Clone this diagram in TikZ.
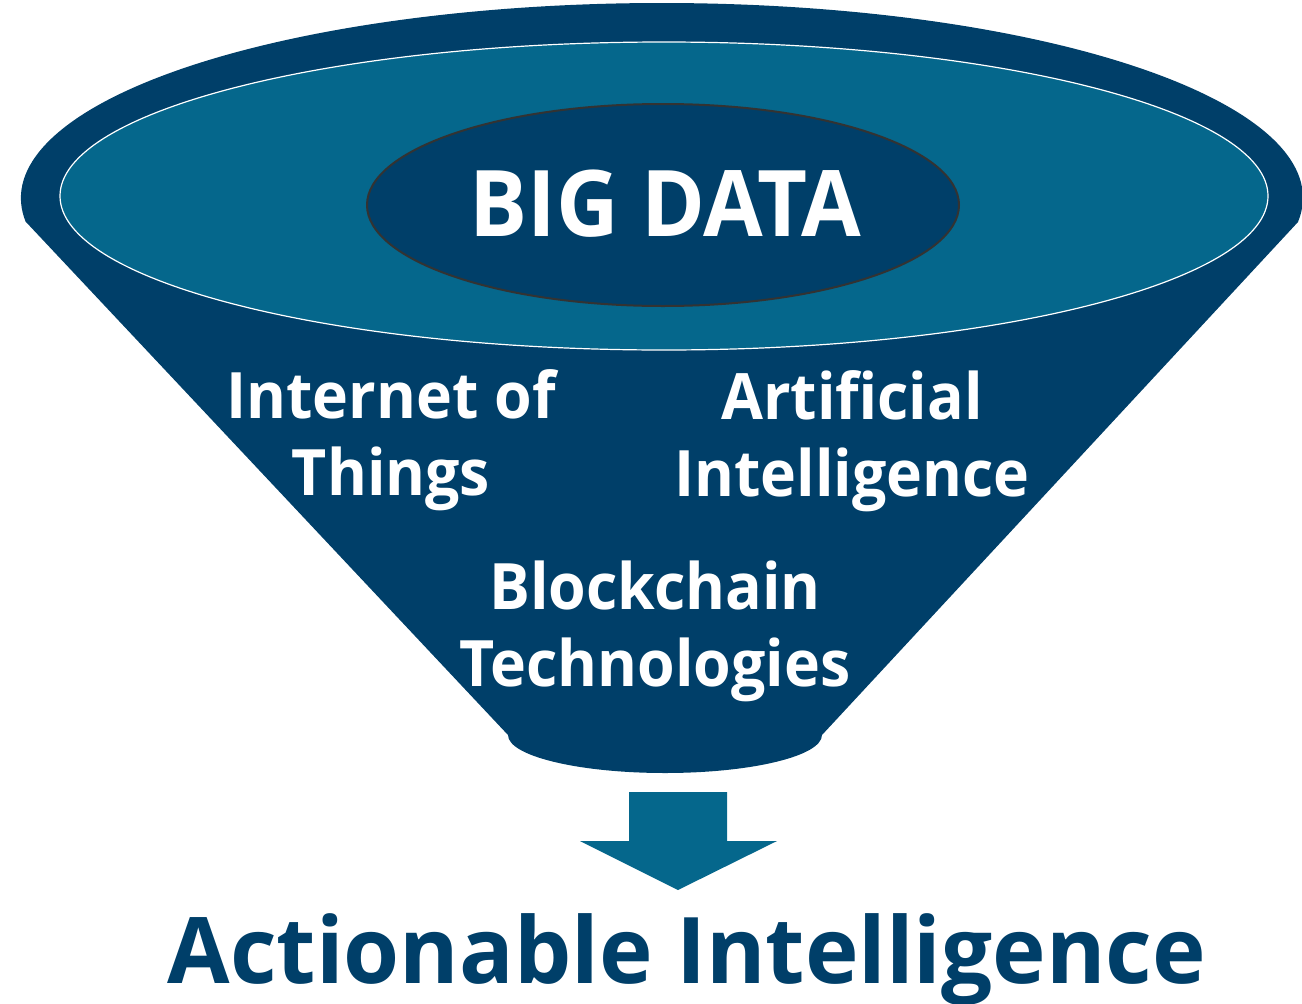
\documentclass[tikz,border=0pt]{standalone}
\usepackage{fontspec}
\setmainfont{Open Sans}
\newfontfamily\lblfont{Open Sans}[FakeStretch=0.95]
\newfontfamily\bigfont{Open Sans}[FakeStretch=0.94]
\newfontfamily\outfont{Open Sans}[FakeStretch=0.985]
\definecolor{navy}{HTML}{003F69}
\definecolor{funnelblue}{HTML}{05678C}
\tikzset{
  lbl/.style={text=white, font=\lblfont\fontsize{64}{77}\selectfont\bfseries, align=center, inner sep=0pt},
  bigtxt/.style={text=white, font=\bigfont\fontsize{92}{100}\selectfont\bfseries, inner sep=0pt},
  outtxt/.style={text=navy, font=\outfont\fontsize{92}{100}\selectfont\bfseries, inner sep=0pt}
}
\begin{document}
\begin{tikzpicture}[x=1pt,y=-1pt]
\useasboundingbox (0,0) rectangle (1302,1004);
% funnel body
\fill[navy] (26,222) -- (508,735)
  arc[start angle=180, end angle=0, x radius=157, y radius=38]
  -- (1298,222)
  arc[start angle=7.07, end angle=-187.07, x radius=641, y radius=195]
  -- cycle;
% inner rim
\draw[fill=funnelblue, draw=white, line width=1.2pt] (664,196) ellipse [x radius=604, y radius=154];
% big data ellipse
\draw[fill=navy, draw=black!80, line width=2pt] (663,205) ellipse [x radius=296, y radius=101];
\node[bigtxt, anchor=base] (bigdata) at (665,236) {BIG DATA};
% labels (base anchor = last line)
\node[lbl, anchor=base] (iot) at (391,495) {Internet of\\Things};
\node[lbl, anchor=base] (ai) at (852,496) {Artificial\\Intelligence};
\node[lbl, anchor=base] (bc) at (655,686) {Blockchain\\Technologies};
% arrow
\fill[funnelblue] (629,792) -- (727,792) -- (727,841) -- (777,841) -- (678,890) -- (580,841) -- (629,841) -- cycle;
\node[outtxt, anchor=base] (result) at (687,983) {Actionable Intelligence};
\end{tikzpicture}
\end{document}
